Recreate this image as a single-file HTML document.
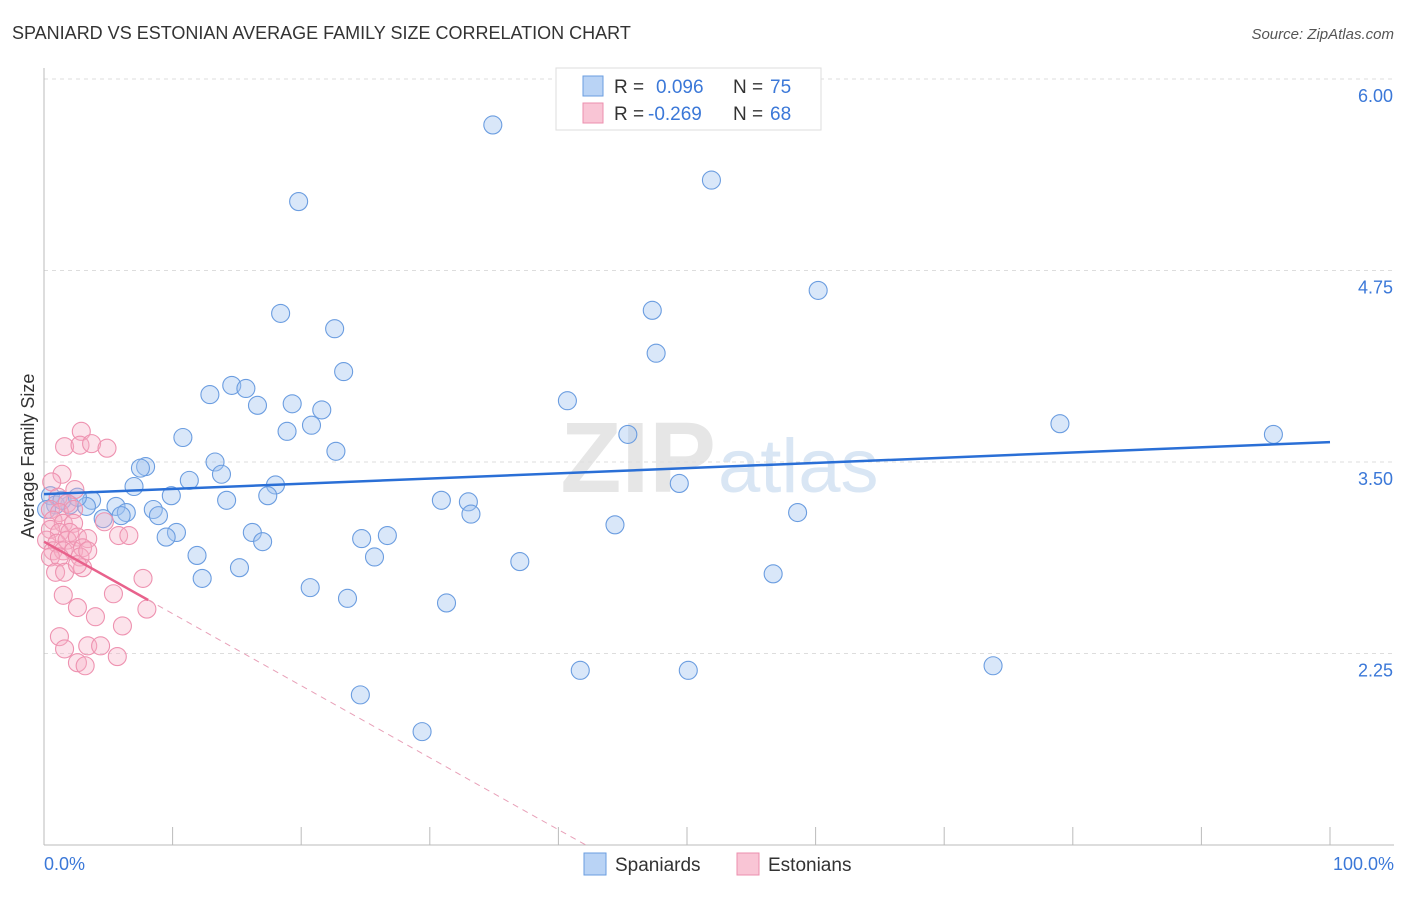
<!DOCTYPE html>
<html><head><meta charset="utf-8"><style>
body{margin:0;background:#fff;font-family:"Liberation Sans",sans-serif}
svg text{font-family:"Liberation Sans",sans-serif}
</style></head><body>
<svg id="c" width="1406" height="892">
<text x="12" y="39" font-size="18" fill="#333">SPANIARD VS ESTONIAN AVERAGE FAMILY SIZE CORRELATION CHART</text>
<text x="1394" y="39" font-size="15" fill="#555" font-style="italic" text-anchor="end">Source: ZipAtlas.com</text>
<text x="716" y="492" font-size="100" fill="#e6e6e6" font-family="Liberation Serif" text-anchor="end" font-weight="bold">ZIP</text>
<text x="718" y="492" font-size="76" fill="#d9e6f4">atlas</text>
<g id="grid"></g><g id="axes"></g><g id="pts"></g><g id="lines"></g>
<text transform="translate(34,456) rotate(-90)" font-size="18" fill="#333" text-anchor="middle">Average Family Size</text>
<text x="44" y="870" font-size="18" fill="#3b78d8">0.0%</text>
<text x="1394" y="870" font-size="18" fill="#3b78d8" text-anchor="end">100.0%</text>
<g>
<rect x="556" y="68" width="265" height="62" fill="#fff" stroke="#ddd"/>
<rect x="583" y="76" width="20" height="20" fill="#b9d3f5" stroke="#6a9ee0"/>
<rect x="583" y="103" width="20" height="20" fill="#f9c5d5" stroke="#ec8fae"/>
<text x="614" y="93" font-size="19" fill="#333">R =</text><text x="656" y="93" font-size="19" fill="#3b78d8">0.096</text>
<text x="733" y="93" font-size="19" fill="#333">N =</text><text x="770" y="93" font-size="19" fill="#3b78d8">75</text>
<text x="614" y="120" font-size="19" fill="#333">R =</text><text x="648" y="120" font-size="19" fill="#3b78d8">-0.269</text>
<text x="733" y="120" font-size="19" fill="#333">N =</text><text x="770" y="120" font-size="19" fill="#3b78d8">68</text>
</g>
<g>
<rect x="584" y="853" width="22" height="22" fill="#b9d3f5" stroke="#6a9ee0"/>
<text x="615" y="871" font-size="19" fill="#333">Spaniards</text>
<rect x="737" y="853" width="22" height="22" fill="#f9c5d5" stroke="#ec8fae"/>
<text x="768" y="871" font-size="19" fill="#333">Estonians</text>
</g>
</svg>
<script>
const yTicks=[6.00,4.75,3.50,2.25];
const xTickVals=[0,10,20,30,40,50,60,70,80,90,100];
const spanX=[34.9,51.9,19.8,60.2,18.4,22.6,47.3,47.6,23.3,14.6,15.7,12.9,16.6,19.3,21.6,40.7,20.8,18.9,79.0,95.6,45.4,10.8,22.7,13.3,7.9,7.5,13.8,11.3,7.0,18.0,49.4,9.9,17.4,14.2,3.7,30.9,33.0,5.6,2.0,3.3,8.5,6.4,8.9,6.0,33.2,58.6,4.6,44.4,16.2,10.3,9.5,24.7,26.7,17.0,11.9,25.7,37.0,15.2,56.7,12.3,20.7,23.6,31.3,41.7,50.1,73.8,24.6,29.4,0.5,0.9,1.4,0.2,2.6];
const spanY=[5.70,5.34,5.20,4.62,4.47,4.37,4.49,4.21,4.09,4.00,3.98,3.94,3.87,3.88,3.84,3.90,3.74,3.70,3.75,3.68,3.68,3.66,3.57,3.50,3.47,3.46,3.42,3.38,3.34,3.35,3.36,3.28,3.28,3.25,3.25,3.25,3.24,3.21,3.22,3.21,3.19,3.17,3.15,3.15,3.16,3.17,3.13,3.09,3.04,3.04,3.01,3.00,3.02,2.98,2.89,2.88,2.85,2.81,2.77,2.74,2.68,2.61,2.58,2.14,2.14,2.17,1.98,1.74,3.28,3.22,3.25,3.19,3.27];
const estX=[2.9,1.6,2.8,3.7,4.9,1.4,0.6,2.4,1.1,1.8,0.5,1.2,2.3,0.7,1.5,2.3,0.5,1.2,2.0,0.2,1.0,1.8,2.6,3.4,0.7,1.5,2.3,3.0,0.5,1.2,2.8,3.0,0.9,1.6,2.6,5.8,6.6,7.7,1.5,2.6,5.4,8.0,4.0,6.1,1.2,1.6,3.4,4.4,5.7,2.6,3.2,4.7,3.4];
const estY=[3.70,3.60,3.61,3.62,3.59,3.42,3.37,3.32,3.27,3.23,3.19,3.17,3.19,3.12,3.10,3.10,3.06,3.04,3.04,2.99,2.97,2.99,3.01,3.00,2.92,2.92,2.92,2.94,2.88,2.88,2.88,2.81,2.78,2.78,2.83,3.02,3.02,2.74,2.63,2.55,2.64,2.54,2.49,2.43,2.36,2.28,2.30,2.30,2.23,2.19,2.17,3.11,2.92];
const spanTrend=[3.29,3.63];
const estTrend=[2.98,-0.047];
const X=v=>44+v*12.86, Y=v=>462-(v-3.5)*153.2;
const NS='http://www.w3.org/2000/svg';
function mk(parent,tag,attrs){const e=document.createElementNS(NS,tag);for(const k in attrs)e.setAttribute(k,attrs[k]);document.getElementById(parent).appendChild(e);return e;}
yTicks.forEach(t=>{
 const l=mk('grid','line',{x1:44,x2:1394,y1:Y(t),y2:Y(t),stroke:'#ddd','stroke-dasharray':'4 4'});
 
 
 const tx=mk('grid','text',{x:1393,y:Y(t)+23,'font-size':18,fill:'#3b78d8','text-anchor':'end'});
 tx.textContent=t.toFixed(2);
 
 
});
const ax=mk('axes','line',{x1:44,x2:44,y1:68,y2:845,stroke:'#bbb'});


const bx=mk('axes','line',{x1:44,x2:1394,y1:845,y2:845,stroke:'#bbb'});


xTickVals.forEach(v=>{
 const t=mk('axes','line',{x1:X(v),x2:X(v),y1:827,y2:845,stroke:'#bbb'});
 
 
});
spanX.forEach((v,i)=>{
 const c=mk('pts','circle',{cx:X(v),cy:Y(spanY[i]),r:9,fill:'rgba(160,195,240,0.4)',stroke:'#6b9de0','stroke-width':1.1});
 
 
});
estX.forEach((v,i)=>{
 const c=mk('pts','circle',{cx:X(v),cy:Y(estY[i]),r:9,fill:'rgba(246,175,198,0.35)',stroke:'#ee92b0','stroke-width':1.1});
 
 
});
const bl=mk('lines','line',{x1:X(0),y1:Y(spanTrend[0]),x2:X(100),y2:Y(spanTrend[1]),stroke:'#2a6fd6','stroke-width':2.5});


const ey=x=>estTrend[0]+estTrend[1]*x;
const xEnd=(estTrend[0]-1.0)/-estTrend[1];
const pl=mk('lines','line',{x1:X(0),y1:Y(ey(0)),x2:X(8.1),y2:Y(ey(8.1)),stroke:'#e8628c','stroke-width':2.5});


const pd=mk('lines','line',{x1:X(8.1),y1:Y(ey(8.1)),x2:X(xEnd),y2:Y(ey(xEnd)),stroke:'#e8a0b8','stroke-width':1,'stroke-dasharray':'6 5'});


</script>
</body></html>
